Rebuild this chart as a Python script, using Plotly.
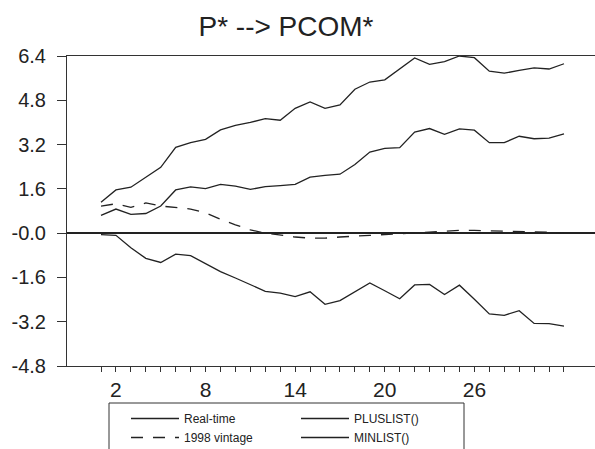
import plotly.graph_objects as go

periods = list(range(1, 33))

real_time = [0.64, 0.87, 0.68, 0.71, 0.98, 1.56, 1.67, 1.61, 1.76, 1.70,
             1.58, 1.68, 1.72, 1.76, 2.02, 2.09, 2.13, 2.48, 2.93, 3.06,
             3.09, 3.65, 3.78, 3.57, 3.77, 3.72, 3.27, 3.27, 3.50, 3.41,
             3.43, 3.59]

vintage_1998 = [0.98, 1.06, 0.93, 1.09, 0.98, 0.92, 0.87, 0.73, 0.50, 0.30,
                0.12, 0.00, -0.08, -0.14, -0.18, -0.18, -0.14, -0.12, -0.08, -0.05,
                -0.02, 0.03, 0.05, 0.07, 0.10, 0.10, 0.09, 0.07, 0.06, 0.05,
                0.03, 0.00]

pluslist = [1.12, 1.56, 1.66, 2.01, 2.38, 3.10, 3.27, 3.39, 3.73, 3.89,
            4.00, 4.14, 4.08, 4.51, 4.74, 4.51, 4.63, 5.20, 5.46, 5.54,
            5.93, 6.33, 6.10, 6.20, 6.40, 6.34, 5.85, 5.78, 5.88, 5.97,
            5.93, 6.12]

minlist = [-0.05, -0.08, -0.53, -0.91, -1.06, -0.76, -0.81, -1.11, -1.39, -1.62,
           -1.86, -2.10, -2.17, -2.29, -2.12, -2.57, -2.44, -2.11, -1.80, -2.08,
           -2.37, -1.87, -1.85, -2.22, -1.88, -2.39, -2.92, -2.97, -2.80, -3.26,
           -3.27, -3.36]

y_ticks = [-4.8, -3.2, -1.6, 0.0, 1.6, 3.2, 4.8, 6.4]
y_ticktext = ["-4.8", "-3.2", "-1.6", "-0.0", "1.6", "3.2", "4.8", "6.4"]
x_labels = {2: "2", 8: "8", 14: "14", 20: "20", 26: "26"}

LINE = "#222222"
FONT = "Liberation Sans, Arial, sans-serif"

# pixel geometry of the plot area
L, T, B, W = 67, 56, 366, 528
H = B - T


def px_x(p):
    return (p - L) / W


def px_y(p):
    return (B - p) / H


fig = go.Figure()
fig.add_trace(go.Scatter(x=periods, y=real_time, mode="lines", name="Real-time",
                         line=dict(color=LINE, width=1.3), legend="legend"))
fig.add_trace(go.Scatter(x=periods, y=vintage_1998, mode="lines", name="1998 vintage",
                         line=dict(color=LINE, width=1.3, dash="12px,10px"), legend="legend"))
fig.add_trace(go.Scatter(x=periods, y=pluslist, mode="lines", name="PLUSLIST()",
                         line=dict(color=LINE, width=1.3), legend="legend2"))
fig.add_trace(go.Scatter(x=periods, y=minlist, mode="lines", name="MINLIST()",
                         line=dict(color=LINE, width=1.3), legend="legend2"))

legend_common = dict(orientation="v", xanchor="left", yanchor="top",
                     borderwidth=0, bgcolor="rgba(0,0,0,0)",
                     font=dict(size=12, family=FONT, color="#222"),
                     itemwidth=48, traceorder="normal", tracegroupgap=0)

fig.update_layout(
    width=595, height=449,
    margin=dict(l=L, r=595 - L - W, t=T, b=449 - B, autoexpand=False),
    paper_bgcolor="white", plot_bgcolor="white",
    font=dict(family=FONT, color="#222"),
    title=dict(text="P* --> PCOM*", x=286/595, xanchor="center",
               y=1 - 26/449, yanchor="middle",
               font=dict(size=28, family=FONT, color="#222")),
    showlegend=True,
    legend=dict(x=px_x(126), y=px_y(404), **legend_common),
    legend2=dict(x=px_x(296), y=px_y(404), **legend_common),
    shapes=[dict(type="rect", xref="paper", yref="paper",
                 x0=px_x(109), x1=px_x(464), y0=px_y(403), y1=px_y(470),
                 line=dict(color="#333", width=1), fillcolor="rgba(0,0,0,0)",
                 layer="below")],
)

fig.update_xaxes(range=[1 - 34/14.935, 1 + 494/14.935],
                 tickmode="array", tickvals=periods,
                 ticktext=[x_labels.get(p, "") for p in periods],
                 ticks="outside", ticklen=5, tickcolor="#333", tickwidth=1,
                 showline=True, linecolor="#333", linewidth=1, mirror=True,
                 showgrid=False, zeroline=False,
                 tickfont=dict(size=21, family=FONT, color="#222"))
fig.update_yaxes(range=[-4.8, 6.4],
                 tickmode="array", tickvals=y_ticks, ticktext=y_ticktext,
                 ticks="outside", ticklen=9, tickcolor="#333", tickwidth=1,
                 ticklabelstandoff=7,
                 showline=True, linecolor="#333", linewidth=1,
                 showgrid=False, zeroline=True, zerolinecolor="#222", zerolinewidth=1.5,
                 tickfont=dict(size=20, family=FONT, color="#222"))

fig.write_html("out.html")
